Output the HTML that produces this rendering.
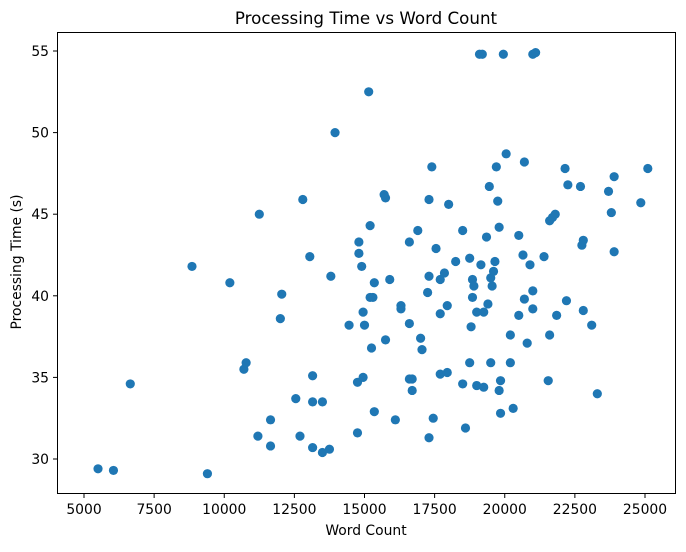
<!DOCTYPE html>
<html><head><meta charset="utf-8"><style>
body{margin:0;background:#fff;font-family:"Liberation Sans","DejaVu Sans",sans-serif}
svg text{font-family:"DejaVu Sans","Liberation Sans",sans-serif;fill:#000}
</style></head><body>
<svg id="chart" width="686" height="547" xmlns="http://www.w3.org/2000/svg">
<rect width="686" height="547" fill="#fff"/>
<text x="366" y="24" font-size="16.7" text-anchor="middle">Processing Time vs Word Count</text>
<g id="marks"></g>
<rect x="57.5" y="32.5" width="618" height="461" fill="none" stroke="#000" stroke-width="1"/>
<g id="xt"></g>
<g id="yt"></g>
<text x="366" y="535" font-size="13.9" text-anchor="middle">Word Count</text>
<text transform="translate(21,262) rotate(-90)" font-size="13.9" text-anchor="middle">Processing Time (s)</text>
</svg>
<script>
const wordCount=[5500,6050,6650,8850,9400,10200,10700,10780,11200,11250,11650,11650,12050,12000,12550,12700,12800,13050,13150,13150,13150,13500,13500,13750,13800,13950,14450,14750,14750,14800,14800,14900,14950,14950,15000,15150,15200,15200,15300,15250,15350,15350,15700,15750,15750,15900,16100,16300,16300,16600,16600,16600,16700,16700,16900,17000,17050,17300,17300,17250,17300,17400,17450,17550,17700,17700,17700,17850,17950,17950,18000,18250,18500,18500,18600,18750,18750,18800,18850,18850,18900,19000,19000,19100,19200,19150,19250,19250,19350,19400,19450,19500,19500,19550,19600,19700,19650,19750,19800,19800,19850,19850,19950,20050,20200,20200,20300,20500,20500,20650,20700,20700,20800,20900,21000,21100,21000,21000,21400,21550,21600,21600,21700,21800,21850,22150,22250,22200,22700,22750,22800,22800,23100,23300,23700,23800,23900,23900,24850,25100];
const procTime=[29.4,29.3,34.6,41.8,29.1,40.8,35.5,35.9,31.4,45.0,32.4,30.8,40.1,38.6,33.7,31.4,45.9,42.4,35.1,33.5,30.7,33.5,30.4,30.6,41.2,50.0,38.2,34.7,31.6,43.3,42.6,41.8,39.0,35.0,38.2,52.5,39.9,44.3,39.9,36.8,40.8,32.9,46.2,46.0,37.3,41.0,32.4,39.4,39.2,43.3,38.3,34.9,34.9,34.2,44.0,37.4,36.7,45.9,41.2,40.2,31.3,47.9,32.5,42.9,41.0,38.9,35.2,41.4,39.4,35.3,45.6,42.1,44.0,34.6,31.9,42.3,35.9,38.1,41.0,39.9,40.6,39.0,34.5,54.8,54.8,41.9,39.0,34.4,43.6,39.5,46.7,41.1,35.9,40.6,41.5,47.9,42.1,45.8,44.2,34.2,34.8,32.8,54.8,48.7,37.6,35.9,33.1,43.7,38.8,42.5,39.8,48.2,37.1,41.9,54.8,54.9,40.3,39.2,42.4,34.8,37.6,44.6,44.8,45.0,38.8,47.8,46.8,39.7,46.7,43.1,43.4,39.1,38.2,34.0,46.4,45.1,47.3,42.7,45.7,47.8];
const xTicks=[5000,7500,10000,12500,15000,17500,20000,22500,25000];
const yTicks=[30,35,40,45,50,55];
const NS='http://www.w3.org/2000/svg';
const xs=v=>84+(v-5000)*0.02805;
const ys=v=>51-(v-55)*16.32;
const g=document.getElementById('marks');
wordCount.forEach((w,i)=>{
  const c=document.createElementNS(NS,'circle');
  c.setAttribute('cx',xs(w));c.setAttribute('cy',ys(procTime[i]));
  c.setAttribute('r',4.6);c.setAttribute('fill','#1f77b4');
  
  
  g.appendChild(c);
});
const xt=document.getElementById('xt');
xTicks.forEach(t=>{
  const x=xs(t);
  const l=document.createElementNS(NS,'line');
  l.setAttribute('x1',x);l.setAttribute('x2',x);l.setAttribute('y1',494);l.setAttribute('y2',498);l.setAttribute('stroke','#000');
  
  
  xt.appendChild(l);
  const s=document.createElementNS(NS,'text');
  s.setAttribute('x',x);s.setAttribute('y',514);s.setAttribute('font-size','13.9');s.setAttribute('text-anchor','middle');
  s.textContent=t;
  
  
  xt.appendChild(s);
});
const yt=document.getElementById('yt');
yTicks.forEach(t=>{
  const y=ys(t);
  const l=document.createElementNS(NS,'line');
  l.setAttribute('x1',53);l.setAttribute('x2',57);l.setAttribute('y1',y);l.setAttribute('y2',y);l.setAttribute('stroke','#000');
  
  
  yt.appendChild(l);
  const s=document.createElementNS(NS,'text');
  s.setAttribute('x',49);s.setAttribute('y',y+5);s.setAttribute('font-size','13.9');s.setAttribute('text-anchor','end');
  s.textContent=t;
  
  
  yt.appendChild(s);
});
</script>
</body></html>
